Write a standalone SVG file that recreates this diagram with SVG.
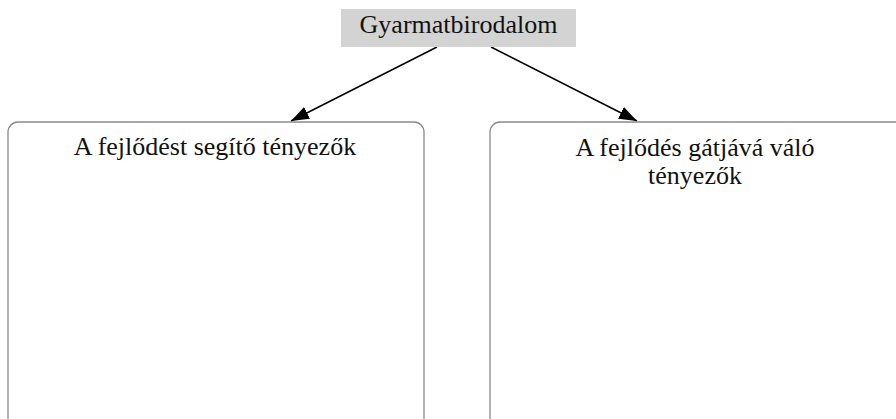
<svg xmlns="http://www.w3.org/2000/svg" width="896" height="419" viewBox="0 0 896 419">
<style>
.lbl{font-family:"Liberation Serif","Times New Roman",serif;font-size:26px;fill:#111;text-anchor:middle}
.box{fill:#fff;stroke:#8a8a8a;stroke-width:1.3}
.edge{stroke:#000;stroke-width:1.5;fill:none}
</style>
<defs>
<marker id="arr" markerUnits="userSpaceOnUse" markerWidth="20" markerHeight="14" refX="18" refY="6.5" orient="auto">
<path d="M0,0 L18,6.5 L0,13 Z" fill="#000"/>
</marker>
</defs>
<rect width="896" height="419" fill="#fff"/>
<g id="connectors">
<line class="edge" x1="437" y1="47" x2="291" y2="121" marker-end="url(#arr)"/>
<line class="edge" x1="491" y1="47" x2="637" y2="121" marker-end="url(#arr)"/>
</g>
<g id="root">
<rect x="341" y="9" width="235" height="38" fill="#d3d3d3"/>
<text class="lbl" x="458.5" y="33">Gyarmatbirodalom</text>
</g>
<g id="left">
<rect class="box" x="8" y="122" width="416" height="306" rx="10" ry="10"/>
<text class="lbl" x="215" y="155">A fejlődést segítő tényezők</text>
</g>
<g id="right">
<rect class="box" x="490" y="122" width="416" height="306" rx="10" ry="10"/>
<text class="lbl" x="695" y="156"><tspan x="695" y="156">A fejlődés gátjává váló</tspan><tspan x="695" y="184">tényezők</tspan></text>
</g>
</svg>
